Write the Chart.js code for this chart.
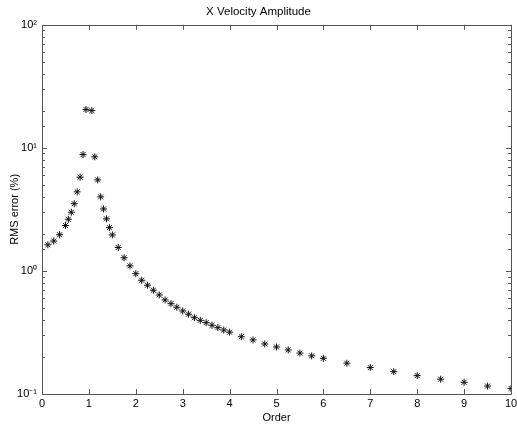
<!DOCTYPE html>
<html>
<head>
<meta charset="utf-8">
<script src="https://cdn.jsdelivr.net/npm/chart.js@4.4.1/dist/chart.umd.min.js"></script>
<style>
  html, body { margin: 0; padding: 0; background: #fff; }
  #wrap { width: 517px; height: 427px; position: relative; }
</style>
</head>
<body>
<div id="wrap"><canvas id="chart"></canvas></div>
<script>
// ── Data ─────────────────────────────────────────────────────────────────────
const orders = [
  0.125, 0.25, 0.375,
  0.5, 0.5625, 0.625, 0.6875, 0.75, 0.8125, 0.875, 0.9375,
  1.0625, 1.125, 1.1875, 1.25, 1.3125, 1.375, 1.4375, 1.5,
  1.625, 1.75, 1.875, 2, 2.125, 2.25, 2.375, 2.5, 2.625, 2.75,
  2.875, 3, 3.125, 3.25, 3.375, 3.5, 3.625, 3.75, 3.875, 4,
  4.25, 4.5, 4.75, 5, 5.25, 5.5, 5.75, 6,
  6.5, 7, 7.5, 8, 8.5, 9, 9.5, 10
];
const rmsError = [
  1.63, 1.75, 1.97,
  2.34, 2.63, 3.0, 3.52, 4.39, 5.78, 8.83, 20.5,
  20.1, 8.45, 5.49, 4.0, 3.19, 2.65, 2.25, 1.96,
  1.55, 1.28, 1.10, 0.95, 0.84, 0.765, 0.697, 0.638, 0.581, 0.542,
  0.507, 0.473, 0.445, 0.417, 0.397, 0.38, 0.362, 0.346, 0.331, 0.318,
  0.292, 0.275, 0.255, 0.241, 0.228, 0.215, 0.204, 0.195,
  0.178, 0.164, 0.152, 0.141, 0.132, 0.1245, 0.116, 0.111
];
const xTicks = [0, 1, 2, 3, 4, 5, 6, 7, 8, 9, 10];
const yDecades = [0.1, 1, 10, 100];
const yDecadeLabels = ['10\u207B\u00B9', '10\u2070', '10\u00B9', '10\u00B2'];

const font = { family: '"Liberation Sans", Arial, sans-serif', size: 11, weight: 'normal' };
const axisColor = '#555';

// MATLAB-style box with inward ticks on all four sides
const boxTicks = {
  id: 'boxTicks',
  afterDraw(chart) {
    const { ctx, chartArea: { left, right, top, bottom }, scales: { x, y } } = chart;
    ctx.save();
    ctx.strokeStyle = axisColor;
    ctx.lineWidth = 1;
    ctx.beginPath();
    ctx.rect(Math.round(left) + 0.5, Math.round(top) + 0.5,
             Math.round(right - left), Math.round(bottom - top));
    for (const v of xTicks) {
      const px = Math.round(x.getPixelForValue(v)) + 0.5;
      ctx.moveTo(px, bottom); ctx.lineTo(px, bottom - 5);
      ctx.moveTo(px, top);    ctx.lineTo(px, top + 5);
    }
    for (const t of y.ticks) {
      const py = Math.round(y.getPixelForValue(t.value)) + 0.5;
      const major = Math.abs(Math.log10(t.value) - Math.round(Math.log10(t.value))) < 1e-6;
      const len = major ? 5 : 3;
      ctx.moveTo(left, py);  ctx.lineTo(left + len, py);
      ctx.moveTo(right, py); ctx.lineTo(right - len, py);
    }
    ctx.stroke();
    ctx.restore();
  },
};

new Chart(document.getElementById('chart'), {
  type: 'scatter',
  data: {
    datasets: [{
      label: 'RMS error',
      data: orders.map((o, i) => ({ x: o, y: rmsError[i] })),
      pointStyle: 'star',
      pointRadius: 3.5,
      pointBorderColor: '#111',
      pointBackgroundColor: '#111',
      pointBorderWidth: 1,
    }],
  },
  options: {
    responsive: true,
    maintainAspectRatio: false,
    animation: false,
    layout: { padding: { left: 0, right: 0, top: 0, bottom: 0 } },
    plugins: {
      legend: { display: false },
      tooltip: { enabled: false },
      title: {
        display: true,
        text: 'X Velocity Amplitude',
        color: '#000',
        font: { ...font, size: 11.5 },
        padding: { top: 5, bottom: 6 },
      },
    },
    scales: {
      x: {
        type: 'linear',
        min: 0, max: 10,
        grid: { display: false, drawTicks: false, tickLength: 0 },
        border: { display: false },
        ticks: { stepSize: 1, color: '#000', font, padding: 3, maxRotation: 0 },
        title: { display: true, text: 'Order', color: '#000', font, padding: { top: 2, bottom: 2 } },
        afterFit(scale) { scale.height = 33; scale.paddingRight = 6; },
      },
      y: {
        type: 'logarithmic',
        min: 0.1, max: 100,
        grid: { display: false, drawTicks: false, tickLength: 0 },
        border: { display: false },
        ticks: {
          autoSkip: false,
          color: '#000',
          font,
          padding: 5,
          callback: v => {
            const i = yDecades.findIndex(d => Math.abs(d - v) / d < 1e-6);
            return i >= 0 ? yDecadeLabels[i] : '';
          },
        },
        title: { display: true, text: 'RMS error (%)', color: '#000', font, padding: { top: 8, bottom: 0 } },
        afterFit(scale) { scale.width = 42; },
      },
    },
  },
  plugins: [boxTicks],
});
</script>
</body>
</html>
